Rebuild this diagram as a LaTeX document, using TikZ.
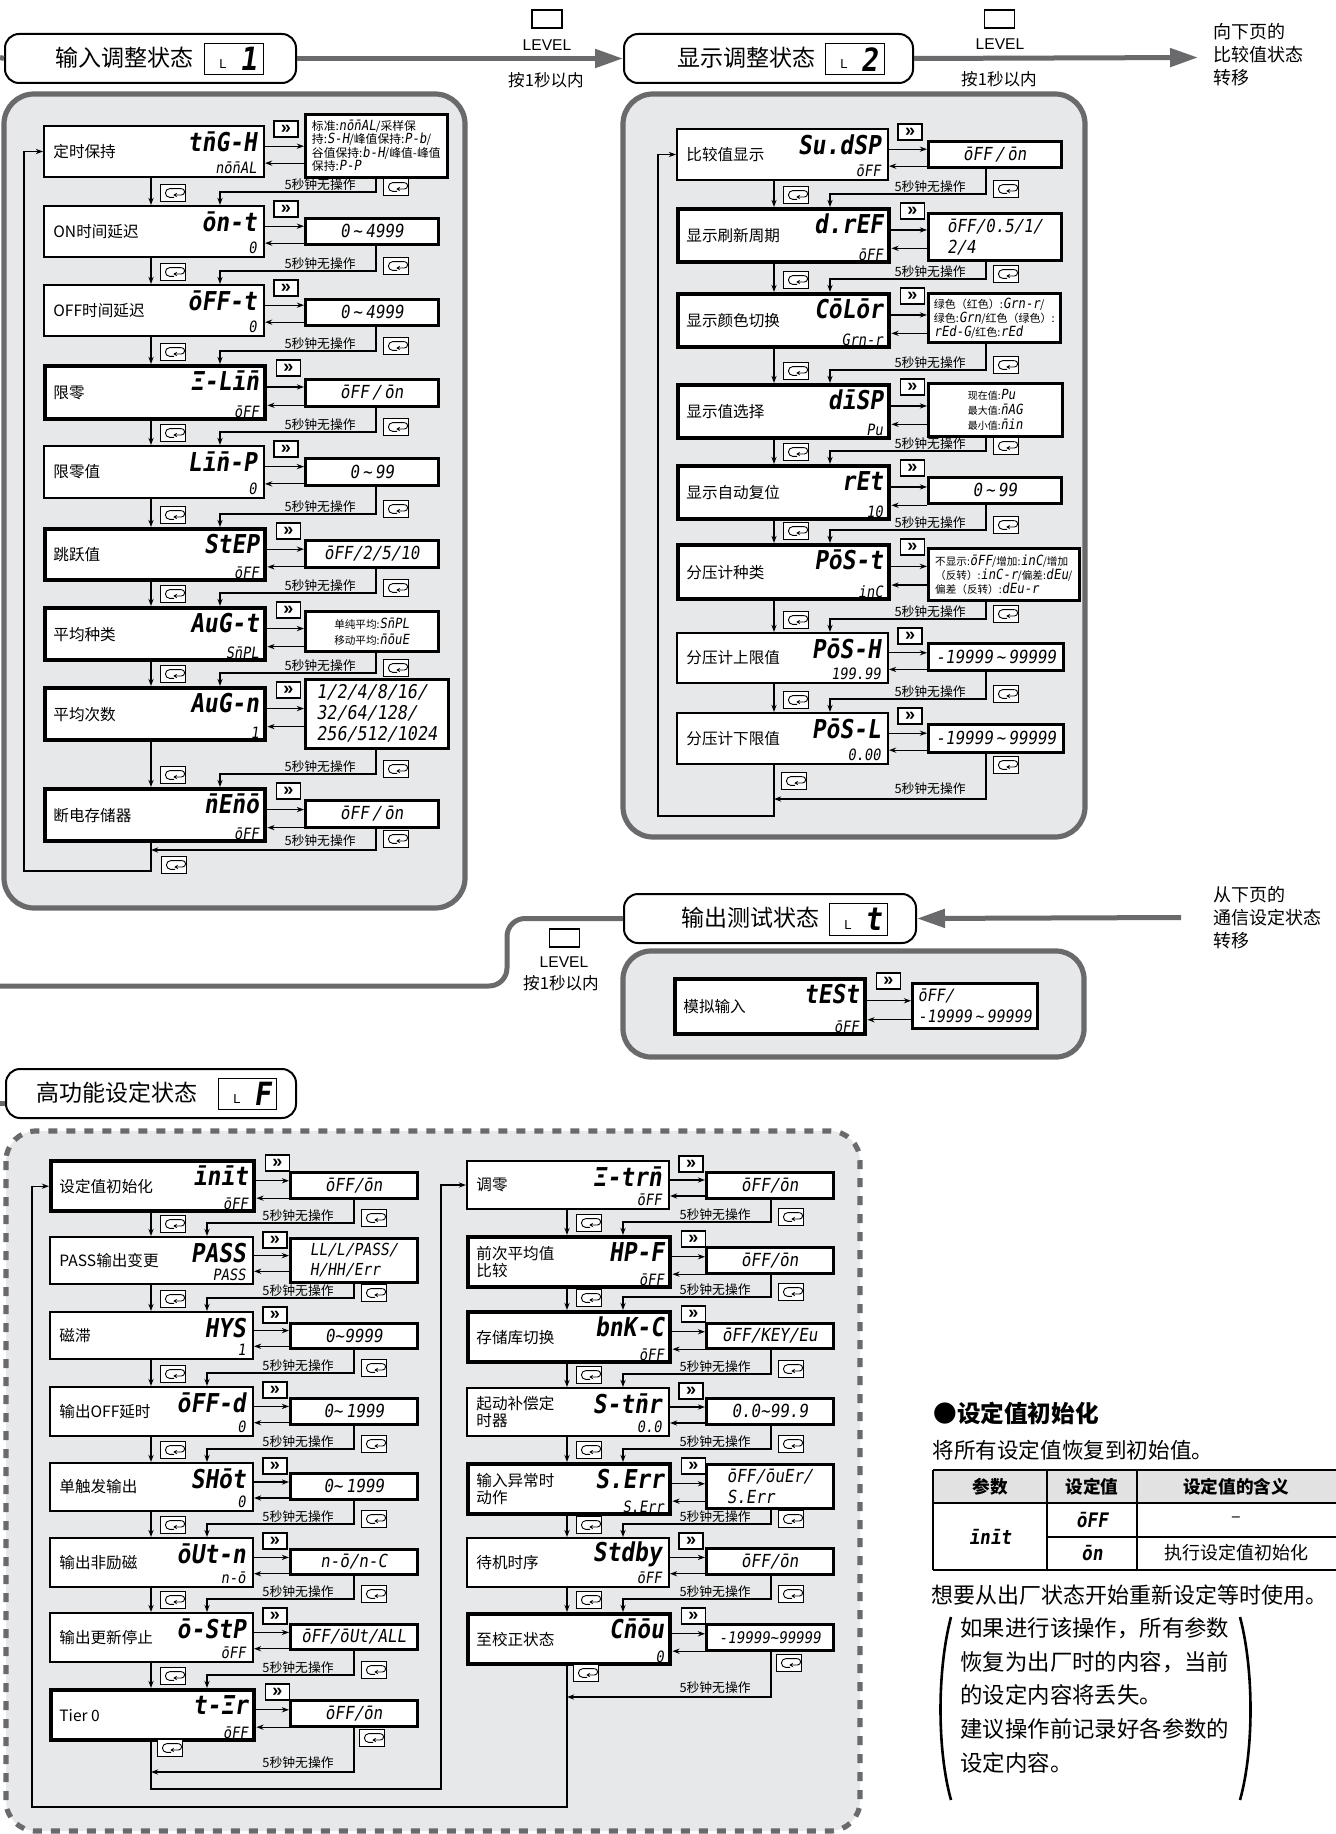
\documentclass[tikz,border=0pt]{standalone}
\usepackage{fontspec}
\setmainfont{Noto Sans CJK SC}
\newfontfamily\segf[FakeSlant=0.15,FakeStretch=0.88]{DejaVu Sans Mono}
\newfontfamily\latf{Liberation Sans}
\usetikzlibrary{arrows.meta,calc}
\definecolor{panelbg}{RGB}{231,232,233}
\definecolor{panelln}{RGB}{106,106,108}
\definecolor{tblhd}{RGB}{226,226,226}
\newcommand\sg[1]{{\segf\fontsize{7}{7}\selectfont #1}}
\newcommand\tld{\textasciitilde}
\tikzset{
 thinbox/.style={draw, line width=1pt, fill=white, inner sep=0pt},
 thickbox/.style={draw, line width=2.2pt, fill=white, inner sep=0pt},
 valbox/.style={draw, line width=1.3pt, fill=white, inner sep=1pt, align=center, font=\segf\fontsize{9}{10.5}\selectfont},
 lbl/.style={inner sep=0pt, align=left, font=\fontsize{7.8}{8.8}\selectfont},
 codet/.style={inner sep=0pt, font=\segf\bfseries\fontsize{13}{14}\selectfont},
 dflt/.style={inner sep=0pt, font=\segf\fontsize{7.8}{9}\selectfont},
 ffkey/.style={draw, line width=0.7pt, fill=white, minimum width=12pt, minimum height=8pt, inner sep=0pt, font=\latf\bfseries\fontsize{9}{9}\selectfont},
 lkeyst/.style={draw, line width=0.7pt, fill=white, minimum width=12.5pt, minimum height=8.5pt, inner sep=0pt},
 arr/.style={line width=0.6pt, -{Stealth[length=3.6pt,width=2.6pt]}},
 tmo/.style={inner sep=0pt, font=\fontsize{6.4}{7}\selectfont},
 panel/.style={fill=panelbg, draw=panelln, line width=2.6pt, rounded corners=15pt},
 dpanel/.style={fill=panelbg, draw=panelln, line width=2.6pt, rounded corners=15pt, dash pattern=on 4.5pt off 4.5pt},
 hdr/.style={draw, line width=1pt, fill=white, rounded corners=7pt, inner sep=0pt},
 htxt/.style={inner sep=0pt, font=\fontsize{11.5}{12}\selectfont},
 lbx/.style={draw, line width=0.7pt, fill=white, inner sep=0pt},
 lsm/.style={inner sep=0pt, font=\latf\fontsize{6.5}{7}\selectfont},
 lbig/.style={inner sep=0pt, font=\segf\bfseries\fontsize{16}{16}\selectfont},
 garr/.style={draw=panelln, line width=2.5pt, -{Triangle[length=14pt,width=9pt]}},
 gln/.style={draw=panelln, line width=2.5pt},
 lvkey/.style={draw, line width=0.8pt, fill=white, minimum width=15pt, minimum height=9pt, inner sep=0pt},
 lvtxt/.style={inner sep=0pt, font=\latf\fontsize{7.8}{8}\selectfont},
 lvsub/.style={inner sep=0pt, font=\fontsize{8.3}{9}\selectfont},
 side/.style={inner sep=0pt, align=left, font=\fontsize{9}{11.5}\selectfont},
 small/.style={align=left, font=\fontsize{5.9}{6.6}\selectfont},
}
\newcommand\mainrow[7]{%
  \node[#4, anchor=north west, minimum width=\pW*0.5pt, minimum height=#3*0.5pt] (m#1) at (\pX,#2) {};
  \node[lbl, anchor=west] (l#1) at ([xshift=5pt]m#1.west) {#5};
  \node[codet, anchor=east] (c#1) at ([xshift=-4pt,yshift=-8.5pt]m#1.north east) {#6};
  \node[dflt, anchor=east] (d#1) at ([xshift=-4pt,yshift=5pt]m#1.south east) {#7};
  \node[ffkey] (k#1) at ([xshift=10.5pt,yshift=-2pt]m#1.north east) {»};
}
\newcommand\valrow[6][]{%
  \node[valbox, #1, anchor=north west, minimum width=#5*0.5pt, minimum height=#4*0.5pt] (v#2) at (\pVX,#3) {#6};
  \path ($(m#2.north east)!0.4!(m#2.south east)$) coordinate (ra#2);
  \path ($(m#2.north east)!0.72!(m#2.south east)$) coordinate (la#2);
  \draw[arr] (ra#2) -- (ra#2 -| v#2.west);
  \draw[arr] (la#2 -| v#2.west) -- (la#2);
}
\newcommand\lkey[2]{%
  \node[lkeyst] (#1) at (#2) {};
  \draw[line width=0.45pt] ([xshift=4.2pt,yshift=2.2pt]#1.center) -- ([xshift=-1.6pt,yshift=2.2pt]#1.center) arc[start angle=90,end angle=270,radius=2.2pt] -- ([xshift=0.6pt,yshift=-2.2pt]#1.center);
  \draw[line width=0.45pt,-{Stealth[length=1.8pt,width=2.2pt]}] ([xshift=4.2pt,yshift=2.2pt]#1.center) arc[start angle=90,end angle=-90,radius=1.6pt] -- ([xshift=0.2pt,yshift=-1pt]#1.center);
}
\newcommand\lnk[2]{%
  \draw[arr] (m#1.south -| cx) -- (m#2.north -| cx);
  \path (m#2.north) ++(0,-13) coordinate (rl#1);
  \draw[arr] (v#1.south -| rout) |- (rl#1 -| rin) -- (m#2.north -| rin);
  \path (rl#1 -| rout) ++(-20,-7) coordinate (tp#1);
  \node[tmo, anchor=east] (tt#1) at (tp#1) {5秒钟无操作};
  \path (rl#1 -| cx) ++(22,1) coordinate (lp#1);
  \lkey{lk#1}{lp#1}
  \path (rl#1 -| rout) ++(20,-5) coordinate (rp#1);
  \lkey{rk#1}{rp#1}
}
\begin{document}
\begin{tikzpicture}[x=0.5pt,y=-0.5pt]
\useasboundingbox (0,0) rectangle (1336,1834);

% ---------- panels ----------
\draw[panel] (4,94) rectangle (465,908);
\draw[panel] (623,94) rectangle (1085,837);
\draw[panel, rounded corners=14pt] (623,951) rectangle (1084,1057);
\draw[dpanel] (6,1131) rectangle (860,1831);

% ---------- headers ----------
\node[hdr, anchor=north west, minimum width=291*0.5pt, minimum height=49*0.5pt] (h1) at (4,33) {};
\node[htxt] (h1t) at (124,58) {输入调整状态};
\node[lbx, anchor=north west, minimum width=59*0.5pt, minimum height=31*0.5pt] (h1l) at (204,43) {};
\node[lsm] (h1a) at ([xshift=9.5pt,yshift=-2.5pt]h1l.west) {L};
\node[lbig] (h1b) at ([xshift=22pt]h1l.west) {1};

\node[hdr, anchor=north west, minimum width=289*0.5pt, minimum height=49*0.5pt] (h2) at (623,33) {};
\node[htxt] (h2t) at (746,58) {显示调整状态};
\node[lbx, anchor=north west, minimum width=59*0.5pt, minimum height=31*0.5pt] (h2l) at (825,43) {};
\node[lsm] (h2a) at ([xshift=9.5pt,yshift=-2.5pt]h2l.west) {L};
\node[lbig] (h2b) at ([xshift=22pt]h2l.west) {2};

\node[hdr, anchor=north west, minimum width=292*0.5pt, minimum height=49*0.5pt] (hT) at (623,893) {};
\node[htxt] (hTt) at (750,917.5) {输出测试状态};
\node[lbx, anchor=north west, minimum width=58*0.5pt, minimum height=32*0.5pt] (hTl) at (829,903) {};
\node[lsm] (hTa) at ([xshift=9.5pt,yshift=-2.5pt]hTl.west) {L};
\node[lbig] (hTb) at ([xshift=22pt]hTl.west) {t};

\node[hdr, anchor=north west, minimum width=290*0.5pt, minimum height=49*0.5pt] (hF) at (5,1068) {};
\node[htxt] (hFt) at (117,1092.5) {高功能设定状态};
\node[lbx, anchor=north west, minimum width=58*0.5pt, minimum height=31*0.5pt] (hFl) at (218,1078) {};
\node[lsm] (hFa) at ([xshift=9.5pt,yshift=-2.5pt]hFl.west) {L};
\node[lbig] (hFb) at ([xshift=22pt]hFl.west) {F};

% header connectors
\coordinate (s1) at (0,57.5);
\draw[gln] (s1) -- (h1.west);
\draw[garr] (h1.east) -- (h2.west);
\coordinate (nx) at (1198,57.5);
\draw[garr] (h2.east) -- (nx);
\coordinate (fromnext) at (1181,917.5);
\draw[garr] (fromnext) -- (hT.east);
\coordinate (tc) at (507,986);
\coordinate (tol) at (0,986);
\draw[gln, rounded corners=9pt] (hT.west) -| (tc) -- (tol);
\coordinate (sF) at (0,1103);
\draw[gln] (sF) -- (sF -| hF.west);

% LEVEL keys
\node[lvkey] (lv1) at (547,19) {};
\node[lvtxt] (lv1t) at (547,45) {LEVEL};
\node[lvsub] (lv1p) at (546,80) {按1秒以内};
\node[lvkey] (lv2) at (999.5,19) {};
\node[lvtxt] (lv2t) at (1000,44) {LEVEL};
\node[lvsub] (lv2p) at (999,79) {按1秒以内};
\node[lvkey] (lvT) at (564.5,938) {};
\node[lvtxt] (lvTt) at (564,962) {LEVEL};
\node[lvsub] (lvTp) at (561,983) {按1秒以内};

\node[side, anchor=west] (nxt) at (1213,55) {向下页的\\比较值状态\\转移};
\node[side, anchor=west] (frt) at (1213,918) {从下页的\\通信设定状态\\转移};

% ---------- left panel (L1) ----------
\def\pX{43}\def\pW{220}\def\pVX{304}
\coordinate (cx) at (151,0); \coordinate (rin) at (220,0); \coordinate (rout) at (376,0);
\mainrow{a1}{125}{51}{thinbox}{定时保持}{tn̄G-H}{nōn̄AL}
\valrow[small]{a1}{113}{63}{142}{标准:\sg{nōn̄AL}/采样保\\持:\sg{S-H}/峰值保持:\sg{P-b}/\\谷值保持:\sg{b-H}/峰值-峰值\\保持:\sg{P-P}}
\mainrow{a2}{205}{51}{thinbox}{ON时间延迟}{ōn-t}{0}
\valrow{a2}{217}{26}{133}{0\,\tld\,4999}
\mainrow{a3}{284}{51}{thinbox}{OFF时间延迟}{ōFF-t}{0}
\valrow{a3}{298}{26}{133}{0\,\tld\,4999}
\mainrow{a4}{364}{53}{thickbox}{限零}{Ξ-Līn̄}{ōFF}
\valrow{a4}{378}{27}{133}{ōFF\,/\,ōn}
\mainrow{a5}{445}{52}{thinbox}{限零值}{Līn̄-P}{0}
\valrow{a5}{457}{27}{133}{0\,\tld\,99}
\mainrow{a6}{527}{51}{thickbox}{跳跃值}{StEP}{ōFF}
\valrow{a6}{539}{27}{133}{ōFF/2/5/10}
\mainrow{a7}{606}{52}{thickbox}{平均种类}{AuG-t}{Sn̄PL}
\valrow[font=\fontsize{5.3}{8}\selectfont]{a7}{610}{40}{133}{单纯平均:\sg{Sn̄PL}\\移动平均:\sg{n̄ōuE}}
\mainrow{a8}{686}{52}{thickbox}{平均次数}{AuG-n}{1}
\valrow[align=left, font=\segf\fontsize{9.5}{10.5}\selectfont]{a8}{678}{69}{143}{1/2/4/8/16/\\32/64/128/\\256/512/1024}
\mainrow{a9}{787}{52}{thickbox}{断电存储器}{n̄En̄ō}{ōFF}
\valrow{a9}{799}{27}{133}{ōFF\,/\,ōn}
\lnk{a1}{a2}\lnk{a2}{a3}\lnk{a3}{a4}\lnk{a4}{a5}\lnk{a5}{a6}\lnk{a6}{a7}\lnk{a7}{a8}\lnk{a8}{a9}
\coordinate (ea) at (0,850); \coordinate (fa) at (24,871);
\draw[arr] (va9.south -| rout) |- (ea -| cx);
\draw[arr] (ma9.south -| cx) |- (fa) |- (ma1.west);
\node[tmo, anchor=east] (tta9) at (356,841) {5秒钟无操作};
\coordinate (lpa9) at (174,865); \lkey{lka9}{lpa9}
\coordinate (rpa9) at (396,839); \lkey{rka9}{rpa9}

% ---------- right panel (L2) ----------
\def\pX{676}\def\pW{211}\def\pVX{927}
\coordinate (cx) at (774,0); \coordinate (rin) at (830,0); \coordinate (rout) at (986,0);
\mainrow{b1}{128}{51}{thinbox}{比较值显示}{Su.dSP}{ōFF}
\valrow{b1}{140}{26}{133}{ōFF\,/\,ōn}
\mainrow{b2}{207}{53}{thickbox}{显示刷新周期}{d.rEF}{ōFF}
\valrow[align=left]{b2}{212}{47}{133}{ōFF/0.5/1/\\2/4}
\mainrow{b3}{292}{53}{thickbox}{显示颜色切换}{CōLōr}{Grn-r}
\valrow[small, font=\fontsize{5.5}{7}\selectfont]{b3}{292}{49}{132}{绿色（红色）:\sg{Grn-r}/\\绿色:\sg{Grn}/红色（绿色）:\\\sg{rEd-G}/红色:\sg{rEd}}
\mainrow{b4}{383}{53}{thickbox}{显示值选择}{dīSP}{Pu}
\valrow[small, font=\fontsize{5}{7.5}\selectfont]{b4}{382}{53}{134}{现在值:\sg{Pu}\\最大值:\sg{n̄AG}\\最小值:\sg{n̄in}}
\mainrow{b5}{464}{53}{thickbox}{显示自动复位}{rEt}{10}
\valrow{b5}{476}{26}{133}{0\,\tld\,99}
\mainrow{b6}{543}{54}{thickbox}{分压计种类}{PōS-t}{inC}
\valrow[small, font=\fontsize{5.3}{7}\selectfont]{b6}{547}{52}{151}{不显示:\sg{ōFF}/增加:\sg{inC}/增加\\（反转）:\sg{inC-r}/偏差:\sg{dEu}/\\偏差（反转）:\sg{dEu-r}}
\mainrow{b7}{632}{50}{thinbox}{分压计上限值}{PōS-H}{199.99}
\valrow{b7}{642}{27}{135}{-19999\,\tld\,99999}
\mainrow{b8}{712}{51}{thinbox}{分压计下限值}{PōS-L}{0.00}
\valrow{b8}{723}{28}{135}{-19999\,\tld\,99999}
\lnk{b1}{b2}\lnk{b2}{b3}\lnk{b3}{b4}\lnk{b4}{b5}\lnk{b5}{b6}\lnk{b6}{b7}\lnk{b7}{b8}
\coordinate (eb) at (0,799); \coordinate (fb) at (658,816);
\draw[arr] (vb8.south -| rout) |- (eb -| cx);
\draw[arr] (mb8.south -| cx) |- (fb) |- (mb1.west);
\node[tmo, anchor=east] (ttb8) at (966,789) {5秒钟无操作};
\coordinate (lpb8) at (794,781); \lkey{lkb8}{lpb8}
\coordinate (rpb8) at (1006,765); \lkey{rkb8}{rpb8}

% ---------- output test ----------
\def\pX{673}\def\pW{190}\def\pVX{911}
\mainrow{t1}{977}{55}{thickbox}{模拟输入}{tESt}{ōFF}
\valrow[align=left, font=\segf\fontsize{8.5}{10.5}\selectfont]{t1}{982}{45}{125}{ōFF/\\-19999\,\tld\,99999}

% ---------- advanced: left column ----------
\def\pX{49}\def\pW{203}\def\pVX{289}
\coordinate (cx) at (151,0); \coordinate (rin) at (207,0); \coordinate (rout) at (354,0);
\mainrow{c1}{1159}{50}{thickbox}{设定值初始化}{īnīt}{ōFF}
\valrow{c1}{1171}{26}{127}{ōFF/ōn}
\mainrow{c2}{1236}{47}{thinbox}{PASS输出变更}{PASS}{PASS}
\valrow[align=left, font=\segf\fontsize{8.3}{10}\selectfont]{c2}{1237}{44}{127}{LL/L/PASS/\\H/HH/Err}
\mainrow{c3}{1311}{47}{thinbox}{磁滞}{HYS}{1}
\valrow{c3}{1322}{25}{127}{0\tld 9999}
\mainrow{c4}{1386}{49}{thinbox}{输出OFF延时}{ōFF-d}{0}
\valrow{c4}{1397}{26}{127}{0\tld\,1999}
\mainrow{c5}{1462}{48}{thinbox}{单触发输出}{SHōt}{0}
\valrow{c5}{1472}{26}{127}{0\tld\,1999}
\mainrow{c6}{1537}{49}{thinbox}{输出非励磁}{ōUt-n}{n-ō}
\valrow{c6}{1548}{25}{127}{n-ō/n-C}
\mainrow{c7}{1612}{49}{thinbox}{输出更新停止}{ō-StP}{ōFF}
\valrow{c7}{1623}{25}{127}{ōFF/ōUt/ALL}
\mainrow{c8}{1688}{50}{thickbox}{Tier 0}{t-Ξr}{ōFF}
\valrow{c8}{1699}{26}{127}{ōFF/ōn}
\lnk{c1}{c2}\lnk{c2}{c3}\lnk{c3}{c4}\lnk{c4}{c5}\lnk{c5}{c6}\lnk{c6}{c7}\lnk{c7}{c8}

% ---------- advanced: right column ----------
\def\pX{466}\def\pW{202}\def\pVX{705}
\coordinate (cx) at (567,0); \coordinate (rin) at (623,0); \coordinate (rout) at (771,0);
\mainrow{e1}{1160}{48}{thinbox}{调零}{Ξ-trn̄}{ōFF}
\valrow{e1}{1171}{26}{127}{ōFF/ōn}
\mainrow{e2}{1235}{50}{thickbox}{前次平均值\\比较}{HP-F}{ōFF}
\valrow{e2}{1246}{26}{127}{ōFF/ōn}
\mainrow{e3}{1310}{50}{thickbox}{存储库切换}{bnK-C}{ōFF}
\valrow{e3}{1322}{25}{127}{ōFF/KEY/Eu}
\mainrow{e4}{1387}{48}{thinbox}{起动补偿定\\时器}{S-tn̄r}{0.0}
\valrow{e4}{1397}{26}{127}{0.0\tld 99.9}
\mainrow{e5}{1462}{50}{thickbox}{输入异常时\\动作}{S.Err}{S.Err}
\valrow[align=left]{e5}{1463}{44}{127}{ōFF/ōuEr/\\S.Err}
\mainrow{e6}{1537}{49}{thinbox}{待机时序}{Stdby}{ōFF}
\valrow{e6}{1547}{26}{127}{ōFF/ōn}
\mainrow{e7}{1612}{50}{thickbox}{至校正状态}{Cn̄ōu}{0}
\valrow[font=\segf\fontsize{8}{9}\selectfont]{e7}{1623}{26}{127}{-19999\tld 99999}
\lnk{e1}{e2}\lnk{e2}{e3}\lnk{e3}{e4}\lnk{e4}{e5}\lnk{e5}{e6}\lnk{e6}{e7}

% finals of advanced section
\coordinate (cxl) at (151,0); \coordinate (routl) at (354,0);
\coordinate (ec) at (0,1772); \coordinate (fc) at (441,1789);
\draw[arr] (vc8.south -| routl) |- (ec -| cxl);
\draw[arr] (mc8.south -| cxl) |- (fc) |- (me1.west);
\node[tmo, anchor=east] (ttc8) at (334,1763) {5秒钟无操作};
\coordinate (lpc8) at (170,1748); \lkey{lkc8}{lpc8}
\coordinate (rpc8) at (372,1738); \lkey{rkc8}{rpc8}

\coordinate (ee) at (0,1697); \coordinate (fe) at (32,1807);
\draw[arr] (ve7.south -| rout) |- (ee -| cx);
\draw[arr] (me7.south -| cx) |- (fe) |- (mc1.west);
\node[tmo, anchor=east] (tte7) at (751,1688) {5秒钟无操作};
\coordinate (lpe7) at (586,1673); \lkey{lke7}{lpe7}
\coordinate (rpe7) at (789,1663); \lkey{rke7}{rpe7}

% ---------- info section ----------
\node[anchor=west, inner sep=0pt, font=\bfseries\fontsize{11.8}{12}\selectfont] (i1) at (933,1413) {●设定值初始化};
\node[anchor=west, inner sep=0pt, font=\fontsize{10.8}{12}\selectfont] (i2) at (932,1450) {将所有设定值恢复到初始值。};
\fill[tblhd] (933,1470) rectangle (1336,1503);
\draw[line width=1.3pt] (933,1470) -- (1336,1470);
\draw[line width=0.7pt] (933,1503) -- (1336,1503);
\draw[line width=0.7pt] (1047,1537) -- (1336,1537);
\draw[line width=1.3pt] (933,1570) -- (1336,1570);
\draw[line width=0.9pt] (933,1470) -- (933,1570);
\draw[line width=0.7pt] (1047,1470) -- (1047,1570);
\draw[line width=0.7pt] (1137,1470) -- (1137,1570);
\node[inner sep=0pt, font=\bfseries\fontsize{8.8}{9}\selectfont] (th1) at (990,1487) {参数};
\node[inner sep=0pt, font=\bfseries\fontsize{8.8}{9}\selectfont] (th2) at (1092,1487) {设定值};
\node[inner sep=0pt, font=\bfseries\fontsize{8.8}{9}\selectfont] (th3) at (1236,1487) {设定值的含义};
\node[inner sep=0pt, font=\segf\bfseries\fontsize{10}{10}\selectfont] (tc1) at (990,1537) {īnīt};
\node[inner sep=0pt, font=\segf\bfseries\fontsize{10}{10}\selectfont] (tc2) at (1092,1520) {ōFF};
\node[inner sep=0pt, font=\segf\bfseries\fontsize{10}{10}\selectfont] (tc3) at (1092,1553) {ōn};
\node[inner sep=0pt, font=\fontsize{9}{9}\selectfont] (tc4) at (1236,1520) {–};
\node[inner sep=0pt, font=\fontsize{9}{9}\selectfont] (tc5) at (1236,1553) {执行设定值初始化};
\node[anchor=west, inner sep=0pt, font=\fontsize{11}{12}\selectfont] (i3) at (931,1595) {想要从出厂状态开始重新设定等时使用。};
\node[anchor=north west, inner sep=0pt, align=left, font=\fontsize{11.2}{16.9}\selectfont] (i4) at (960,1617) {如果进行该操作，所有参数\\恢复为出厂时的内容，当前\\的设定内容将丢失。\\建议操作前记录好各参数的\\设定内容。};
\draw[line width=1.3pt] (951,1617) .. controls (937,1670) and (937,1750) .. (951,1800);
\draw[line width=1.3pt] (1240,1617) .. controls (1254,1670) and (1254,1750) .. (1240,1800);
\end{tikzpicture}
\end{document}
